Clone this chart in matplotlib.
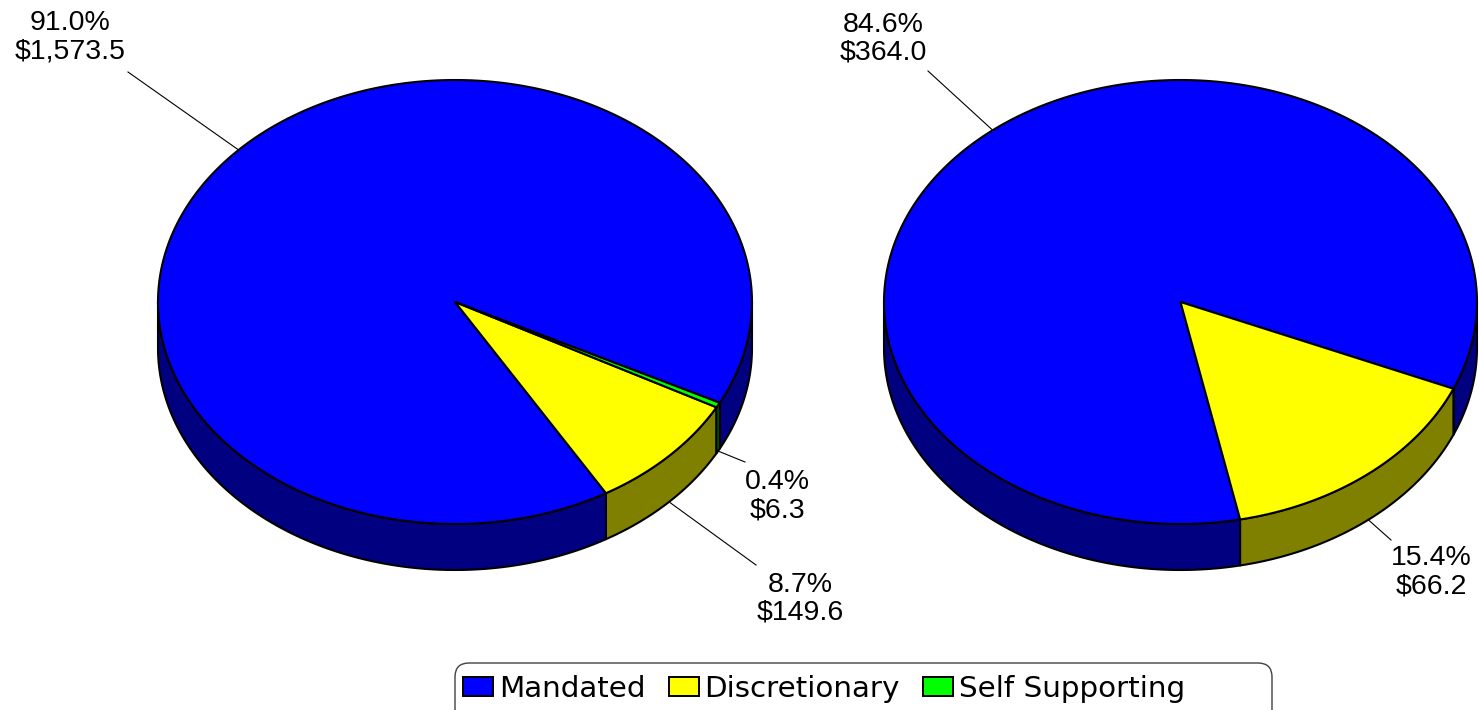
import numpy as np
import matplotlib
matplotlib.use("Agg")
import matplotlib.pyplot as plt
from matplotlib.patches import Polygon, Rectangle, FancyBboxPatch

plt.rcParams['font.family'] = ['Liberation Sans', 'DejaVu Sans']

categories = ['Mandated', 'Discretionary', 'Self Supporting']
left_values = [1573.5, 149.6, 6.3]
right_values = [364.0, 66.2, 0.0]

top_colors = ['#0000FF', '#FFFF00', '#00FF00']
side_colors = ['#000080', '#808000', '#008000']

W, H = 1479, 710
DEPTH = 46


def slice_spans(values, start):
    total = sum(values)
    spans = []
    a = start
    for i, v in enumerate(values):
        if v <= 0:
            continue
        b = a + 360.0 * v / total
        spans.append((i, a, b, v / total))
        a = b
    return spans


def draw_pie(ax, cx, cy, rx, ry, values, start):
    spans = slice_spans(values, start)
    # front side walls
    for i, a, b, _ in spans:
        for k in (-360, 0, 360):
            lo = max(a, 180 + k)
            hi = min(b, 360 + k)
            if hi <= lo:
                continue
            t = np.radians(np.linspace(lo, hi, 120))
            x = cx + rx * np.cos(t)
            y = cy - ry * np.sin(t)
            pts = np.column_stack([np.r_[x, x[::-1]], np.r_[y, y[::-1] + DEPTH]])
            ax.add_patch(Polygon(pts, closed=True, fc=side_colors[i],
                                 ec='black', lw=1.5, joinstyle='round'))
    # top faces
    for i, a, b, _ in spans:
        t = np.radians(np.linspace(a, b, 300))
        x = np.r_[cx, cx + rx * np.cos(t)]
        y = np.r_[cy, cy - ry * np.sin(t)]
        ax.add_patch(Polygon(np.column_stack([x, y]), closed=True,
                             fc=top_colors[i], ec='black', lw=1.5, joinstyle='round'))
    return spans


def label_slice(ax, cx, cy, rx, ry, span, values, end, pos):
    i, a, b, frac = span
    m = np.radians((a + b) / 2)
    x0 = cx + rx * np.cos(m)
    y0 = cy - ry * np.sin(m)
    if np.sin(m) < 0:
        y0 += DEPTH
    ax.plot([x0, end[0]], [y0, end[1]], color='black', lw=0.8)
    ax.text(pos[0], pos[1], f"{frac * 100:.1f}%\n${values[i]:,.1f}",
            ha='center', va='center', multialignment='center',
            fontsize=20.5, linespacing=1.1)


fig = plt.figure(figsize=(W / 100, H / 100), dpi=100)
ax = fig.add_axes([0, 0, 1, 1])
ax.set_xlim(0, W)
ax.set_ylim(H, 0)
ax.axis('off')

# left pie
L = (455, 302, 297, 222)
spans_l = draw_pie(ax, *L, left_values, -27)
label_slice(ax, *L, spans_l[0], left_values, (128, 72), (70, 37))
label_slice(ax, *L, spans_l[1], left_values, (756, 565), (800, 599))
label_slice(ax, *L, spans_l[2], left_values, (745, 462), (777, 496))

# right pie
R = (1180.5, 302, 296.5, 222)
spans_r = draw_pie(ax, *R, right_values, -23)
label_slice(ax, *R, spans_r[0], right_values, (928, 71), (883, 39))
label_slice(ax, *R, spans_r[1], right_values, (1391, 540), (1431, 572))

# legend, drawn by hand so the frame can keep Excel's wide box
ax.add_patch(FancyBboxPatch((455, 663), 817, 60,
                            boxstyle='round,pad=0,rounding_size=14',
                            fc='white', ec='#404040', lw=1.0, clip_on=False))
renderer = fig.canvas.get_renderer()
x = 463
for cat, col in zip(categories, top_colors):
    ax.add_patch(Rectangle((x, 677), 30, 19, fc=col, ec='black', lw=1.4))
    txt = ax.text(x + 36, 697, cat, ha='left', va='baseline',
                  fontsize=21.2, family=['DejaVu Sans'])
    bb = txt.get_window_extent(renderer)
    x = bb.x1 + 23

fig.savefig('out.png', dpi=100)
